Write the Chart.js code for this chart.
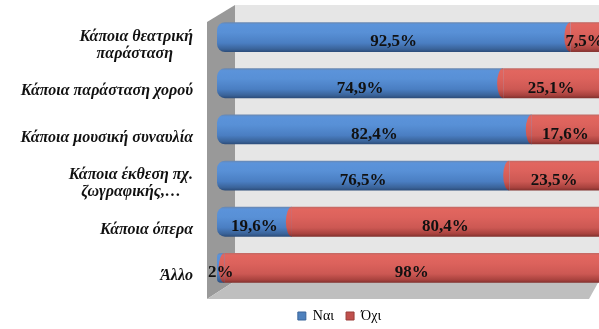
<!DOCTYPE html>
<html>
<head>
<meta charset="utf-8">
<script src="https://cdn.jsdelivr.net/npm/chart.js@4.4.0/dist/chart.umd.min.js"></script>
<style>
  html, body { margin: 0; padding: 0; background: #fff; }
</style>
</head>
<body>
<canvas id="chart" width="599" height="329"></canvas>
<script>
// --- dados ---
const categories = [
    ['Κάποια θεατρική', 'παράσταση'],
    'Κάποια παράσταση χορού',
    'Κάποια μουσική συναυλία',
    ['Κάποια έκθεση πχ.', 'ζωγραφικής,…'],
    'Κάποια όπερα',
    'Άλλο'
];
const seriesNames = ['Ναι', 'Όχι'];
const naiValues = [92.5, 74.9, 82.4, 76.5, 19.6, 2];
const oxiValues = [7.5, 25.1, 17.6, 23.5, 80.4, 98];

const labelFont = 'italic bold 16px "Liberation Serif"';
const measureCtx = document.createElement('canvas').getContext('2d');
measureCtx.font = labelFont;

// Centraliza as linhas de um rótulo de duas linhas (como no original)
function centerLines(lines) {
    if (!Array.isArray(lines)) return lines;
    const widths = lines.map(l => measureCtx.measureText(l).width);
    const max = Math.max(...widths);
    const sp = measureCtx.measureText(' ').width;
    return lines.map((l, i) => l + ' '.repeat(Math.round((max - widths[i]) / 2 / sp)));
}

// Gradiente "cilíndrico" para cada barra
function cylinder(stops, solid) {
    return (ctx) => {
        const chart = ctx.chart;
        const y = chart.scales && chart.scales.y;
        if (ctx.type !== 'data' || !y) return solid;
        const c = y.getPixelForValue(ctx.dataIndex);
        const g = chart.ctx.createLinearGradient(0, c - 15, 0, c + 15);
        stops.forEach(s => g.addColorStop(s[0], s[1]));
        return g;
    };
}

const blueStops = [[0, '#6a86ad'], [0.08, '#5b93da'], [0.35, '#5890d6'], [0.7, '#4a7ec2'], [0.9, '#3a6399'], [1, '#2b4b78']];
const redStops = [[0, '#bf6a65'], [0.08, '#e2665f'], [0.35, '#dc625c'], [0.7, '#cc5853'], [0.9, '#a8423e'], [1, '#7e2f2c']];

// Parede e chão em "3D" atrás das barras
const wallPlugin = {
    id: 'wall',
    afterLayout(chart) {
        // legenda deslocada (direita e para baixo), como no original
        const lg = chart.legend;
        lg.left += 40;
        lg.right += 40;
        lg.top += 6;
        lg.bottom += 6;
    },
    beforeDatasetsDraw(chart) {
        const { ctx, chartArea: a } = chart;
        const sx = a.left - 10, bx = a.left + 18;
        const top = a.top - 9, floorY = a.bottom - 10, bot = a.bottom + 8;
        ctx.save();
        ctx.fillStyle = '#e6e6e6';
        ctx.fillRect(bx, top, a.right - bx, floorY - top);
        ctx.fillStyle = '#999999';
        ctx.beginPath();
        ctx.moveTo(sx, top + 17);
        ctx.lineTo(bx, top);
        ctx.lineTo(bx, floorY);
        ctx.lineTo(sx, bot);
        ctx.closePath();
        ctx.fill();
        ctx.fillStyle = '#bfbfbf';
        ctx.beginPath();
        ctx.moveTo(bx, floorY);
        ctx.lineTo(a.right, floorY);
        ctx.lineTo(a.right - 10, bot);
        ctx.lineTo(sx, bot);
        ctx.closePath();
        ctx.fill();
        ctx.restore();
    }
};

// Tampa arredondada do segmento vermelho + rótulos de valores
const valueLabels = {
    id: 'valueLabels',
    afterDatasetsDraw(chart) {
        const ctx = chart.ctx;
        ctx.save();
        chart.getDatasetMeta(1).data.forEach(bar => {
            ctx.fillStyle = bar.options.backgroundColor;
            ctx.beginPath();
            ctx.ellipse(bar.base, bar.y, 6, bar.height / 2, 0, Math.PI / 2, Math.PI * 1.5);
            ctx.closePath();
            ctx.fill();
        });
        ctx.font = 'bold 17px "Liberation Serif"';
        ctx.fillStyle = '#111';
        ctx.textAlign = 'center';
        ctx.textBaseline = 'middle';
        chart.data.datasets.forEach((ds, i) => {
            chart.getDatasetMeta(i).data.forEach((bar, j) => {
                const txt = String(ds.data[j]).replace('.', ',') + '%';
                ctx.fillText(txt, (bar.x + bar.base) / 2, bar.y + 5);
            });
        });
        ctx.restore();
    }
};

new Chart(document.getElementById('chart'), {
    type: 'bar',
    data: {
        labels: categories,
        datasets: [{
            label: seriesNames[0],
            data: naiValues,
            backgroundColor: cylinder(blueStops, '#4f81bd'),
            borderRadius: { topLeft: 8, bottomLeft: 8, topRight: 0, bottomRight: 0 },
            borderSkipped: false
        }, {
            label: seriesNames[1],
            data: oxiValues,
            backgroundColor: cylinder(redStops, '#c0504d'),
            borderSkipped: false
        }]
    },
    options: {
        indexAxis: 'y',
        responsive: false,
        animation: false,
        layout: { padding: { left: 0, right: 0, top: 14, bottom: 2 } },
        datasets: { bar: { categoryPercentage: 1, barPercentage: 0.645 } },
        scales: {
            x: { stacked: true, min: 0, max: 100, display: false },
            y: {
                stacked: true,
                grid: { display: false, drawTicks: false },
                border: { display: false },
                afterFit: (scale) => {
                    scale.width = 217;
                    scale.paddingTop = 0;
                    scale.paddingBottom = 0;
                },
                ticks: {
                    padding: 24,
                    labelOffset: 8,
                    color: '#111',
                    font: { family: 'Liberation Serif', size: 16, style: 'italic', weight: 'bold', lineHeight: 1.07 },
                    callback: (value, index) => centerLines(categories[index])
                }
            }
        },
        plugins: {
            tooltip: { enabled: false },
            legend: {
                position: 'bottom',
                labels: {
                    boxWidth: 8,
                    boxHeight: 8,
                    padding: 12,
                    color: '#333',
                    font: { family: 'Liberation Serif', size: 14 },
                    generateLabels: (chart) => chart.data.datasets.map((ds, i) => ({
                        text: ds.label,
                        fillStyle: ['#4f81bd', '#c0504d'][i],
                        strokeStyle: ['#3a659a', '#9a3c39'][i],
                        lineWidth: 1,
                        hidden: false,
                        datasetIndex: i
                    }))
                }
            }
        }
    },
    plugins: [wallPlugin, valueLabels]
});
</script>
</body>
</html>
